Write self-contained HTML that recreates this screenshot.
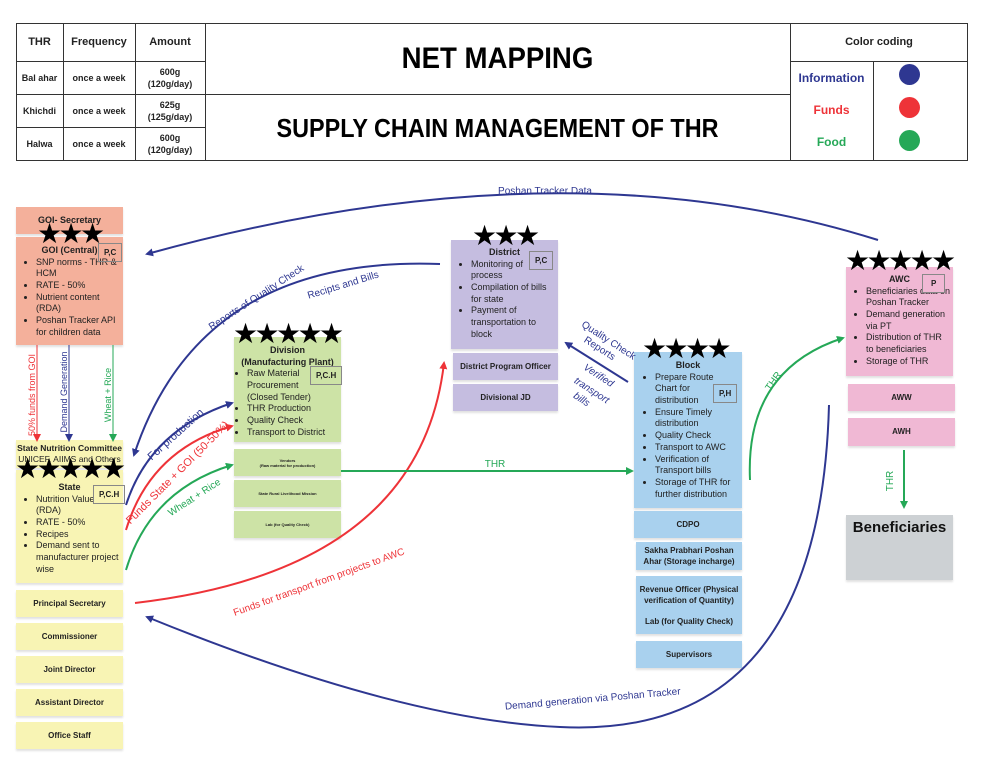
<!DOCTYPE html>
<html><head><meta charset="utf-8"><style>
*{margin:0;padding:0;box-sizing:border-box}
body{width:986px;height:760px;background:#fff;font-family:"Liberation Sans",sans-serif;position:relative;overflow:hidden;color:#222}
.b{position:absolute;font-size:9px;line-height:11.6px;box-shadow:0 2px 2px rgba(0,0,0,.12)}
.c{display:flex;align-items:center;justify-content:center;text-align:center;font-weight:bold;font-size:8px}
.t{text-align:center;font-weight:bold;font-size:9px;padding-top:6px}
ul{margin-left:20px;font-size:9px;line-height:11.7px;padding-right:4px}
.tag{position:absolute;border:1px solid #888;font-size:8px;font-weight:bold;padding:4px 5px;background:transparent}
.stars{position:absolute;font-size:28px;line-height:24px;letter-spacing:-3.6px;color:#000;white-space:nowrap}
.tb{position:absolute;border:1px solid #333}
.cell{position:absolute;display:flex;align-items:center;justify-content:center;text-align:center;font-size:9px;line-height:12px;font-weight:bold;color:#222}
</style></head><body>
<div class="tb" style="left:16px;top:23px;width:952px;height:138px;border-width:1.5px"></div>
<div style="position:absolute;left:63px;top:23px;width:1px;height:138px;background:#333"></div>
<div style="position:absolute;left:135px;top:23px;width:1px;height:138px;background:#333"></div>
<div style="position:absolute;left:205px;top:23px;width:1px;height:138px;background:#333"></div>
<div style="position:absolute;left:790px;top:23px;width:1px;height:138px;background:#333"></div>
<div style="position:absolute;left:873px;top:61px;width:1px;height:100px;background:#333"></div>
<div style="position:absolute;left:16px;top:61px;width:190px;height:1px;background:#333"></div>
<div style="position:absolute;left:16px;top:94px;width:775px;height:1px;background:#333"></div>
<div style="position:absolute;left:16px;top:127px;width:190px;height:1px;background:#333"></div>
<div style="position:absolute;left:790px;top:61px;width:178px;height:1px;background:#333"></div>
<div class="cell" style="left:16px;top:23px;width:47px;height:38px;font-size:11px">THR</div>
<div class="cell" style="left:63px;top:23px;width:72px;height:38px;font-size:11px">Frequency</div>
<div class="cell" style="left:135px;top:23px;width:70px;height:38px;font-size:11px">Amount</div>
<div class="cell" style="left:16px;top:61px;width:47px;height:33px">Bal ahar</div>
<div class="cell" style="left:63px;top:61px;width:72px;height:33px">once a week</div>
<div class="cell" style="left:135px;top:61px;width:70px;height:33px">600g<br>(120g/day)</div>
<div class="cell" style="left:16px;top:94px;width:47px;height:33px">Khichdi</div>
<div class="cell" style="left:63px;top:94px;width:72px;height:33px">once a week</div>
<div class="cell" style="left:135px;top:94px;width:70px;height:33px">625g<br>(125g/day)</div>
<div class="cell" style="left:16px;top:127px;width:47px;height:33px">Halwa</div>
<div class="cell" style="left:63px;top:127px;width:72px;height:33px">once a week</div>
<div class="cell" style="left:135px;top:127px;width:70px;height:33px">600g<br>(120g/day)</div>
<div class="cell" style="left:205px;top:23px;width:585px;height:72px;font-size:30px;color:#000;font-weight:900;transform:scaleX(.92)">NET MAPPING</div>
<div class="cell" style="left:205px;top:95px;width:585px;height:66px;font-size:26px;color:#000;font-weight:900;transform:scaleX(.9)">SUPPLY CHAIN MANAGEMENT OF THR</div>
<div class="cell" style="left:790px;top:23px;width:178px;height:38px;font-size:11px">Color coding</div>
<div class="cell" style="left:790px;top:66px;width:83px;height:24px;font-size:12px;color:#2e3791">Information</div>
<div class="cell" style="left:790px;top:98px;width:83px;height:24px;font-size:12px;color:#ee3338">Funds</div>
<div class="cell" style="left:790px;top:130px;width:83px;height:24px;font-size:12px;color:#25a857">Food</div>
<div style="position:absolute;left:899px;top:64px;width:21px;height:21px;border-radius:50%;background:#2e3791"></div>
<div style="position:absolute;left:899px;top:97px;width:21px;height:21px;border-radius:50%;background:#ee3338"></div>
<div style="position:absolute;left:899px;top:130px;width:21px;height:21px;border-radius:50%;background:#25a857"></div>

<div class="b c" style="left:16px;top:207px;width:107px;height:27px;background:#f4b09b;font-size:9px">GOI- Secretary</div>
<div class="b" style="left:16px;top:237px;width:107px;height:108px;background:#f4b09b">
 <div class="t" style="padding-top:8px">GOI (Central)</div>
 <ul><li>SNP norms - THR &amp; HCM</li><li>RATE - 50%</li><li>Nutrient content (RDA)</li><li>Poshan Tracker API for children data</li></ul>
</div>
<div class="tag" style="left:98px;top:243px">P,C</div>
<div class="stars" style="left:37px;top:222px">★★★</div>

<div class="b" style="left:16px;top:440px;width:107px;height:28px;background:#f8f4b4;text-align:center;font-size:8.5px;line-height:11px;padding-top:3px"><b>State Nutrition Committee</b><br>UNICEF, AIIMS and Others</div>
<div class="b" style="left:16px;top:470px;width:107px;height:113px;background:#f8f4b4">
 <div class="t" style="padding-top:12px">State</div>
 <ul><li>Nutrition Value (RDA)</li><li>RATE - 50%</li><li>Recipes</li><li>Demand sent to manufacturer project wise</li></ul>
</div>
<div class="tag" style="left:93px;top:485px">P,C.H</div>
<div class="stars" style="left:15px;top:457px">★★★★★</div>
<div class="b c" style="left:16px;top:590px;width:107px;height:27px;background:#f8f4b4">Principal Secretary</div>
<div class="b c" style="left:16px;top:623px;width:107px;height:27px;background:#f8f4b4">Commissioner</div>
<div class="b c" style="left:16px;top:656px;width:107px;height:27px;background:#f8f4b4">Joint Director</div>
<div class="b c" style="left:16px;top:689px;width:107px;height:27px;background:#f8f4b4">Assistant Director</div>
<div class="b c" style="left:16px;top:722px;width:107px;height:27px;background:#f8f4b4">Office Staff</div>

<div class="b" style="left:234px;top:337px;width:107px;height:105px;background:#cde3a6">
 <div class="t" style="padding-top:8px">Division<br>(Manufacturing Plant)</div>
 <ul style="margin-left:13px;padding-right:20px"><li>Raw Material Procurement (Closed Tender)</li><li style="white-space:nowrap">THR Production</li><li>Quality Check</li><li style="white-space:nowrap">Transport to District</li></ul>
</div>
<div class="tag" style="left:310px;top:366px">P,C.H</div>
<div class="stars" style="left:233px;top:322px">★★★★★</div>
<div class="b c" style="left:234px;top:449px;width:107px;height:27px;background:#cde3a6;font-size:4px;line-height:5px">Vendors<br>(Raw material for production)</div>
<div class="b c" style="left:234px;top:480px;width:107px;height:27px;background:#cde3a6;font-size:4px">State Rural Livelihood Mission</div>
<div class="b c" style="left:234px;top:511px;width:107px;height:27px;background:#cde3a6;font-size:4px">Lab (for Quality Check)</div>

<div class="b" style="left:451px;top:240px;width:107px;height:109px;background:#c5bde0">
 <div class="t" style="padding-top:7px">District</div>
 <ul style="margin-left:20px"><li>Monitoring of process</li><li>Compilation of bills for state</li><li>Payment of transportation to block</li></ul>
</div>
<div class="tag" style="left:529px;top:251px">P,C</div>
<div class="stars" style="left:472px;top:224px">★★★</div>

<div class="b c" style="left:453px;top:353px;width:105px;height:27px;background:#c5bde0">District Program Officer</div>
<div class="b c" style="left:453px;top:384px;width:105px;height:27px;background:#c5bde0">Divisional JD</div>

<div class="b" style="left:634px;top:352px;width:108px;height:156px;background:#a9d1ee">
 <div class="t" style="padding-top:8px">Block</div>
 <ul style="margin-left:21px;padding-right:6px"><li style="padding-right:22px">Prepare Route Chart for distribution</li><li>Ensure Timely distribution</li><li>Quality Check</li><li>Transport to AWC</li><li>Verification of Transport bills</li><li>Storage of THR for further distribution</li></ul>
</div>
<div class="tag" style="left:713px;top:384px">P,H</div>
<div class="stars" style="left:642px;top:337px">★★★★</div>
<div class="b c" style="left:634px;top:511px;width:108px;height:27px;background:#a9d1ee">CDPO</div>
<div class="b c" style="left:636px;top:542px;width:106px;height:28px;background:#a9d1ee;line-height:11px">Sakha Prabhari Poshan Ahar (Storage incharge)</div>
<div class="b" style="left:636px;top:576px;width:106px;height:58px;background:#a9d1ee;text-align:center;font-weight:bold;font-size:8px;line-height:11px;padding-top:8px">Revenue Officer (Physical verification of Quantity)<div style="margin-top:10px">Lab (for Quality Check)</div></div>
<div class="b c" style="left:636px;top:641px;width:106px;height:27px;background:#a9d1ee">Supervisors</div>

<div class="b" style="left:846px;top:267px;width:107px;height:109px;background:#f0b8d4">
 <div class="t" style="padding-top:7px">AWC</div>
 <ul style="margin-left:20px;padding-right:2px"><li>Beneficiaries data on Poshan Tracker</li><li>Demand generation via PT</li><li>Distribution of THR to beneficiaries</li><li>Storage of THR</li></ul>
</div>
<div class="tag" style="left:922px;top:274px;background:#f0b8d4;padding:4px 8px">P</div>
<div class="stars" style="left:845px;top:249px">★★★★★</div>
<div class="b c" style="left:848px;top:384px;width:107px;height:27px;background:#f0b8d4">AWW</div>
<div class="b c" style="left:848px;top:418px;width:107px;height:28px;background:#f0b8d4">AWH</div>
<div class="b" style="left:846px;top:515px;width:107px;height:65px;background:#cdd1d4;text-align:center;font-weight:bold;font-size:15px;padding-top:7px;color:#111">Beneficiaries</div>

<svg width="986" height="760" style="position:absolute;left:0;top:0" xmlns="http://www.w3.org/2000/svg">
<defs>
<marker id="mb" markerWidth="8" markerHeight="8" refX="6" refY="4" orient="auto" markerUnits="userSpaceOnUse"><path d="M0,0 L8,4 L0,8 Z" fill="#2e3791"/></marker>
<marker id="mr" markerWidth="8" markerHeight="8" refX="6" refY="4" orient="auto" markerUnits="userSpaceOnUse"><path d="M0,0 L8,4 L0,8 Z" fill="#ee3338"/></marker>
<marker id="mg" markerWidth="8" markerHeight="8" refX="6" refY="4" orient="auto" markerUnits="userSpaceOnUse"><path d="M0,0 L8,4 L0,8 Z" fill="#25a857"/></marker>
</defs>
<g fill="none" stroke-width="2">
<path d="M878,240 Q560,140 147,254" stroke="#2e3791" marker-end="url(#mb)"/>
<path d="M440,264 Q200,255 134,455" stroke="#2e3791" marker-end="url(#mb)"/>
<path d="M126,505 Q150,430 232,403" stroke="#2e3791" marker-end="url(#mb)"/>
<path d="M126,530 Q150,450 232,426" stroke="#ee3338" marker-end="url(#mr)"/>
<path d="M126,570 Q150,490 232,465" stroke="#25a857" marker-end="url(#mg)"/>
<path d="M135,603 Q420,570 444,363" stroke="#ee3338" marker-end="url(#mr)"/>
<path d="M341,471 L632,471" stroke="#25a857" marker-end="url(#mg)"/>
<path d="M628,382 L566,343" stroke="#2e3791" marker-end="url(#mb)"/>
<path d="M750,480 Q745,370 843,338" stroke="#25a857" marker-end="url(#mg)"/>
<path d="M904,450 L904,507" stroke="#25a857" marker-end="url(#mg)"/>
<path d="M829,405 Q820,740 560,727 Q400,720 147,617" stroke="#2e3791" marker-end="url(#mb)"/>
<path d="M37,345 L37,440" stroke="#ee3338" stroke-width="1" marker-end="url(#mr)"/>
<path d="M69,345 L69,440" stroke="#2e3791" stroke-width="1" marker-end="url(#mb)"/>
<path d="M113,345 L113,440" stroke="#25a857" stroke-width="1" marker-end="url(#mg)"/>
</g>
<g font-family="Liberation Sans, sans-serif" font-size="10">
<text x="545" y="194" fill="#2e3791" text-anchor="middle">Poshan Tracker Data</text>
<text x="258" y="300" fill="#2e3791" transform="rotate(-33 258 300)" text-anchor="middle">Reports of Quality Check</text>
<text x="344" y="288" fill="#2e3791" transform="rotate(-17 344 288)" text-anchor="middle">Recipts and Bills</text>
<text x="178" y="437" fill="#2e3791" transform="rotate(-42 178 437)" text-anchor="middle" font-size="11">For production</text>
<text x="180" y="475" fill="#ee3338" transform="rotate(-45 180 475)" text-anchor="middle" font-size="11">Funds State + GOI (50-50%)</text>
<text x="196" y="500" fill="#25a857" transform="rotate(-33 196 500)" text-anchor="middle">Wheat + Rice</text>
<text x="320" y="585" fill="#ee3338" transform="rotate(-20 320 585)" text-anchor="middle">Funds for transport from projects to AWC</text>
<text x="495" y="467" fill="#25a857" text-anchor="middle">THR</text>
<text x="593" y="702" fill="#2e3791" transform="rotate(-5 593 702)" text-anchor="middle">Demand generation via Poshan Tracker</text>
<text x="607" y="343" fill="#2e3791" transform="rotate(33 607 343)" text-anchor="middle">Quality Check</text>
<text x="598" y="351" fill="#2e3791" transform="rotate(33 598 351)" text-anchor="middle">Reports</text>
<text x="597" y="378" fill="#2e3791" font-style="italic" transform="rotate(33 597 378)" text-anchor="middle">Verified</text>
<text x="590" y="393" fill="#2e3791" font-style="italic" transform="rotate(33 590 393)" text-anchor="middle">transport</text>
<text x="580" y="402" fill="#2e3791" font-style="italic" transform="rotate(33 580 402)" text-anchor="middle">bills</text>
<text x="776" y="383" fill="#25a857" transform="rotate(-55 776 383)" text-anchor="middle">THR</text>
<text x="893" y="481" fill="#25a857" transform="rotate(-90 893 481)" text-anchor="middle">THR</text>
<text x="35" y="395" fill="#ee3338" font-size="9" transform="rotate(-90 35 395)" text-anchor="middle">50% funds from GOI</text>
<text x="67" y="392" fill="#2e3791" font-size="9" transform="rotate(-90 67 392)" text-anchor="middle">Demand Generation</text>
<text x="111" y="395" fill="#25a857" font-size="9" transform="rotate(-90 111 395)" text-anchor="middle">Wheat + Rice</text>
</g>
</svg>
</body></html>
